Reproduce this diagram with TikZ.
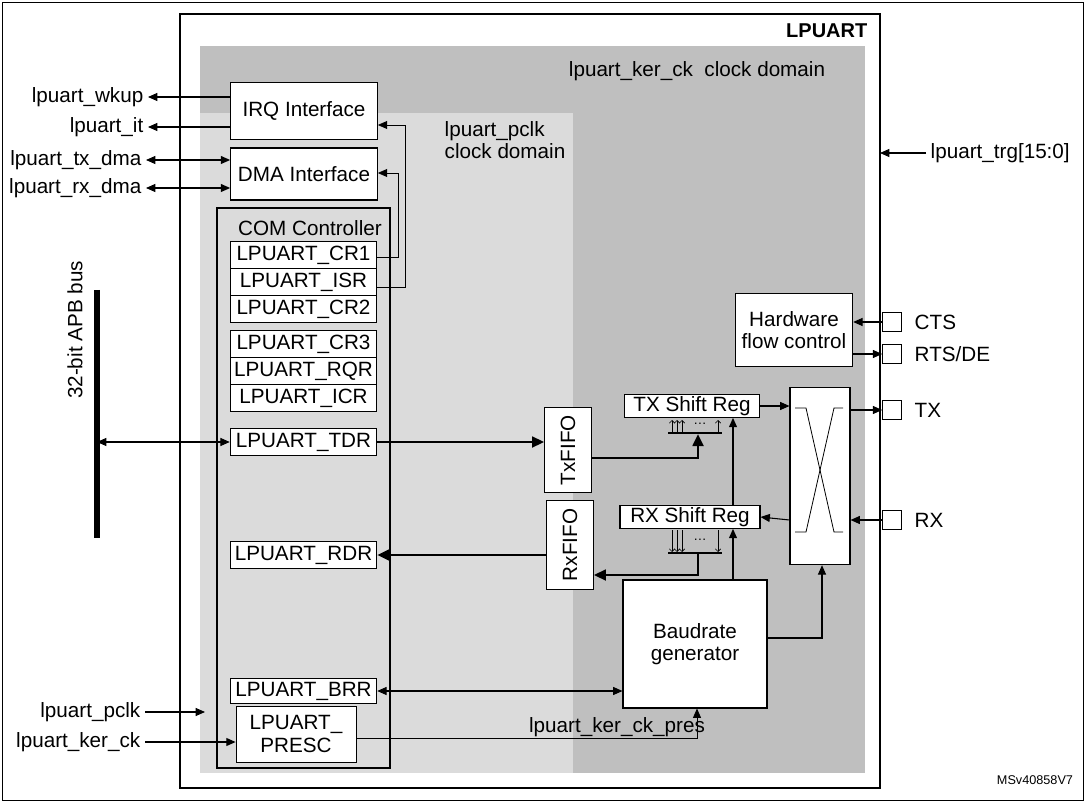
\documentclass[tikz,border=0pt]{standalone}
\usepackage{fontspec}
\setmainfont{Liberation Sans}
\usetikzlibrary{arrows.meta}
\begin{document}
\begin{tikzpicture}[x=0.75pt,y=-0.75pt,
  box/.style={draw,fill=white,line width=0.8pt},
  reg/.style={draw,fill=white,line width=0.6pt,inner sep=0pt},
  t/.style={font=\fontsize{15.5}{17}\selectfont},
  ar/.style={-{Triangle[length=7pt,width=6pt]},line width=0.8pt},
  dar/.style={{Triangle[length=7pt,width=6pt]}-{Triangle[length=7pt,width=6pt]},line width=0.8pt},
  tar/.style={-{Triangle[length=9pt,width=8pt]},line width=2pt},
  pin/.style={draw,fill=white,line width=0.7pt,minimum size=14pt,inner sep=0pt}]
\useasboundingbox (0,0) rectangle (1085,802);
\draw[line width=0.6pt] (2,2) rectangle (1083,800);
\draw[line width=1pt] (180,14) rectangle (880,788);
\fill[gray!50] (200,46) rectangle (865,773);
\fill[gray!28] (200,113) rectangle (573,773);
\node[font=\fontsize{15}{17}\selectfont\bfseries,anchor=east] (title) at (872,31) {LPUART};
\node[t] (kdom) at (697,71) {lpuart\_ker\_ck\ \ clock domain};
\node[t,align=left] (pdom) at (505,140) {lpuart\_pclk\\clock domain};
% interfaces
\node[box,t,minimum width=110pt,minimum height=43pt] (irq) at (304,111) {IRQ Interface};
\node[box,t,minimum width=110pt,minimum height=39pt] (dma) at (304,174) {DMA Interface};
\draw[line width=0.8pt,fill=gray!28] (217,208) rectangle (390,768);
\node[t] (com) at (310,228) {COM Controller};
\foreach \n/\y/\h in {cr1/255/20, isr/282/20, cr2/309/20, cr3/344/20, rqr/371/20, icr/398/20, tdr/442/20, rdr/555/20, brr/691/19}{
  \node[reg,minimum width=110pt,minimum height=\h pt] (\n) at (303.5,\y) {};}
\node[t] at (cr1) {LPUART\_CR1};
\node[t] at (isr) {LPUART\_ISR};
\node[t] at (cr2) {LPUART\_CR2};
\node[t] at (cr3) {LPUART\_CR3};
\node[t] at (rqr) {LPUART\_RQR};
\node[t] at (icr) {LPUART\_ICR};
\node[t] at (tdr) {LPUART\_TDR};
\node[t] at (rdr) {LPUART\_RDR};
\node[t] at (brr) {LPUART\_BRR};
\node[reg,t,minimum width=90pt,minimum height=42pt,align=center] (presc) at (296,734) {LPUART\_\\PRESC};
% feedback
\draw[ar,line width=0.6pt] (377,287) -- (405,287) -- (405,125) -- (irq.east|-0,125);
\draw[ar,line width=0.6pt] (377,257) -- (398,257) -- (398,173) -- (dma.east|-0,173);
% left signals
\node[t,anchor=east] (wk) at (148,97) {lpuart\_wkup};
\node[t,anchor=east] (it) at (148,127) {lpuart\_it};
\node[t,anchor=east] (txd) at (146,160) {lpuart\_tx\_dma};
\node[t,anchor=east] (rxd) at (146,188) {lpuart\_rx\_dma};
\draw[ar] (irq.west|-0,97) -- (wk.east);
\draw[ar] (irq.west|-0,127) -- (it.east);
\draw[dar] (txd.east) -- (dma.west|-0,160);
\draw[dar] (rxd.east) -- (dma.west|-0,188);
\coordinate (bt) at (97,290); \coordinate (bb) at (97,538);
\draw[line width=4pt] (bt) -- (bb);
\node[t,rotate=90] (bus) at (75,330) {32-bit APB bus};
\draw[dar] (97,442) -- (tdr.west);
\node[t,anchor=east] (pclk) at (145,712) {lpuart\_pclk};
\node[t,anchor=east] (kck) at (145,742) {lpuart\_ker\_ck};
\draw[ar] (pclk.east) -- (205,712);
\draw[ar] (kck.east) -- (presc.west|-0,742);
% right signals
\node[t,anchor=west] (trg) at (926,153) {lpuart\_trg[15:0]};
\draw[ar] (trg.west) -- (880,153);
\node[pin] (pcts) at (892,322) {};
\node[pin] (prts) at (892,354) {};
\node[pin] (ptx) at (892,410) {};
\node[pin] (prx) at (892,520) {};
\node[t,anchor=west] at (910,322) {CTS};
\node[t,anchor=west] at (910,354) {RTS/DE};
\node[t,anchor=west] at (910,410) {TX};
\node[t,anchor=west] at (910,520) {RX};
\node[box,t,minimum width=88pt,minimum height=55pt,align=center] (hfc) at (794,330) {Hardware\\flow control};
\draw[ar] (pcts.west) -- (hfc.east|-0,322);
\draw[ar] (hfc.east|-0,354) -- (prts.west);
\node[box,minimum width=45pt,minimum height=133pt] (mux) at (820,476) {};
\draw[line width=0.6pt] (795,408) -- (806,408) -- (834,532) -- (843,532);
\draw[line width=0.6pt] (843,408) -- (834,408) -- (806,532) -- (795,532);
\node[box,t,minimum width=101pt,minimum height=17pt,inner sep=0pt] (txs) at (692,406) {TX Shift Reg};
\node[box,t,minimum width=105pt,minimum height=17pt,inner sep=0pt] (rxs) at (690,517) {RX Shift Reg};
\draw[ar] (txs.east) -- (mux.west|-0,406);
\draw[ar] (mux.east|-0,410) -- (ptx.west);
\draw[ar] (prx.west) -- (mux.east|-0,520);
\draw[ar] (mux.west|-0,520) -- (rxs.east);
% bit bars
\draw[line width=1.2pt] (668,433) -- (722,433);
\draw[line width=1.2pt] (668,553) -- (722,553);
\foreach \x in {672,677,682,718}{
  \draw[-{Straight Barb[length=2pt]},line width=0.5pt] (\x,433) -- (\x,420);
  \draw[-{Straight Barb[length=2pt]},line width=0.5pt] (\x,530) -- (\x,552);}
\node[font=\fontsize{10}{10}\selectfont] at (700,424) {\dots};
\node[font=\fontsize{10}{10}\selectfont] at (700,540) {\dots};
\node[box,t,minimum width=35pt,minimum height=64pt] (txf) at (568,450) {};
\node[t,rotate=90] at (txf) {TxFIFO};
\node[box,t,minimum width=35pt,minimum height=67pt] (rxf) at (570,545) {};
\node[t,rotate=90] at (rxf) {RxFIFO};
\draw[tar] (tdr.east) -- (txf.west|-0,442);
\draw[tar] (txf.east|-0,458) -- (698,458) -- (698,434);
\draw[tar] (698,554) -- (698,575) -- (rxf.east|-0,575);
\draw[tar] (rxf.west|-0,555) -- (rdr.east);
\node[box,t,minimum width=108pt,minimum height=96pt,align=center] (baud) at (695,644) {Baudrate\\generator};
\draw[ar] (baud.north-|733,0) -- (rxs.south-|733,0);
\draw[ar] (rxs.north-|733,0) -- (txs.south-|733,0);
\draw[ar] (baud.east|-0,638) -- (822,638) -- (mux.south-|822,0);
\draw[dar] (brr.east) -- (baud.west|-0,691);
\draw[ar,line width=0.6pt] (presc.east|-0,738) -- (697,738) -- (baud.south-|697,0);
\node[t] (kpres) at (617,727) {lpuart\_ker\_ck\_pres};
\node[font=\fontsize{9.5}{10}\selectfont] (ms) at (1035,780) {MSv40858V7};
\end{tikzpicture}
\end{document}
